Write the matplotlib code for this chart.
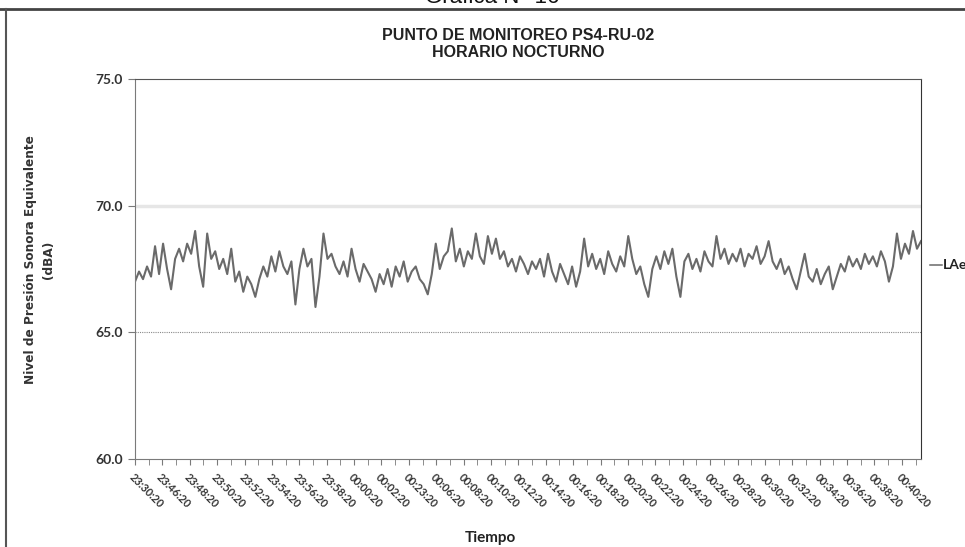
import numpy as np
import matplotlib
matplotlib.use("Agg")
import matplotlib.pyplot as plt
from matplotlib.lines import Line2D

# Etiquetas del eje de tiempo (tal como aparecen en la gráfica)
etiquetas = ["23:30:20", "23:46:20", "23:48:20", "23:50:20", "23:52:20", "23:54:20",
             "23:56:20", "23:58:20", "00:00:20", "00:02:20", "00:23:20", "00:06:20",
             "00:08:20", "00:10:20", "00:12:20", "00:14:20", "00:16:20", "00:18:20",
             "00:20:20", "00:22:20", "00:24:20", "00:26:20", "00:28:20", "00:30:20",
             "00:32:20", "00:34:20", "00:36:20", "00:38:20", "00:40:20"]

# Nivel LAeq (dBA)
laeq = [67.0, 67.4, 67.1, 67.6, 67.2, 68.4, 67.3, 68.5, 67.5, 66.7,
        67.9, 68.3, 67.8, 68.5, 68.1, 69.0, 67.6, 66.8, 68.9, 67.9,
        68.2, 67.5, 67.9, 67.3, 68.3, 67.0, 67.4, 66.6, 67.2, 66.9,
        66.4, 67.1, 67.6, 67.2, 68.0, 67.4, 68.2, 67.6, 67.3, 67.8,
        66.1, 67.5, 68.3, 67.6, 67.9, 66.0, 67.2, 68.9, 67.9, 68.1,
        67.6, 67.3, 67.8, 67.2, 68.3, 67.5, 67.0, 67.7, 67.4, 67.1,
        66.6, 67.3, 66.9, 67.5, 66.8, 67.6, 67.2, 67.8, 67.0, 67.4,
        67.6, 67.1, 66.9, 66.5, 67.3, 68.5, 67.5, 68.0, 68.2, 69.1,
        67.8, 68.3, 67.6, 68.2, 67.9, 68.9, 68.0, 67.7, 68.8, 68.1,
        68.7, 67.9, 68.2, 67.6, 67.9, 67.4, 68.0, 67.7, 67.3, 67.8,
        67.5, 67.9, 67.2, 68.1, 67.4, 67.0, 67.7, 67.3, 66.9, 67.6,
        66.8, 67.4, 68.7, 67.6, 68.1, 67.5, 67.9, 67.3, 68.2, 67.7,
        67.4, 68.0, 67.6, 68.8, 67.9, 67.3, 67.6, 66.9, 66.4, 67.5,
        68.0, 67.5, 68.2, 67.7, 68.3, 67.2, 66.4, 67.8, 68.1, 67.5,
        67.9, 67.4, 68.2, 67.8, 67.6, 68.8, 67.9, 68.3, 67.7, 68.1,
        67.8, 68.3, 67.6, 68.1, 67.9, 68.4, 67.7, 68.0, 68.6, 67.8,
        67.5, 67.9, 67.3, 67.6, 67.1, 66.7, 67.4, 68.1, 67.2, 67.0,
        67.5, 66.9, 67.3, 67.6, 66.7, 67.2, 67.7, 67.4, 68.0, 67.6,
        67.9, 67.5, 68.1, 67.7, 68.0, 67.6, 68.2, 67.8, 67.0, 67.6,
        68.9, 67.9, 68.5, 68.1, 69.0, 68.3, 68.6]

x = np.arange(len(laeq))

fig = plt.figure(figsize=(9.65, 5.47), dpi=100)
ax = fig.add_axes([135 / 965, 88 / 547, 786 / 965, 380 / 547])

ax.plot(x, laeq, color="#6a6a6a", linewidth=1.5)

ax.set_ylim(60, 75)
ax.set_xlim(0, len(laeq) - 1)

# Líneas guía
ax.axhline(65, color="#8a8a8a", linestyle=(0, (1, 1)), linewidth=0.8)
ax.axhline(70, color="#e6e6e6", linewidth=2.5)

ax.set_yticks([60, 65, 70, 75])
ax.set_yticklabels(["60.0", "65.0", "70.0", "75.0"], fontfamily="Lato",
                   fontweight="bold", fontsize=10, color="#333333")

paso = (len(laeq) - 1) / 28.7
pos = np.arange(len(etiquetas)) * paso
ax.set_xticks(pos)
ax.set_xticklabels(etiquetas, rotation=-45, ha="left", va="top",
                   rotation_mode="anchor", fontfamily="Lato", fontweight="bold",
                   fontsize=7.8, color="#333333")
ax.set_xticks(pos + paso / 2, minor=True)
ax.tick_params(axis="x", which="both", direction="out", length=4,
               color="#7a7a7a", pad=5)
ax.tick_params(axis="y", direction="out", length=5, color="#7a7a7a", pad=4)

for lado in ["left", "bottom"]:
    ax.spines[lado].set_color("#7a7a7a")
ax.spines["right"].set_color("#333333")
ax.spines["top"].set_color("#555555")
ax.spines["top"].set_linewidth(0.8)

# Títulos
fig.text(518 / 965, 1 - 44 / 547, "PUNTO DE MONITOREO PS4-RU-02\nHORARIO NOCTURNO",
         ha="center", va="center", fontfamily="Liberation Sans",
         fontweight="bold", fontsize=11.5, color="#222222", linespacing=1.1)
fig.text(492 / 965, 1 - 3 / 547, "Gráfica N° 16", ha="center", va="baseline",
         fontfamily="Liberation Sans", fontsize=16, color="#111111")
fig.text(490 / 965, 1 - 538 / 547, "Tiempo", ha="center", va="center",
         fontfamily="Lato", fontweight="bold", fontsize=11, color="#222222")
fig.text(40 / 965, 1 - 260 / 547, "Nivel de Presión Sonora Equivalente\n(dBA)",
         ha="center", va="center", rotation=90, fontfamily="DejaVu Sans",
         fontweight="bold", fontsize=8.7, color="#333333", linespacing=1.5)

# Leyenda a la derecha
fig.add_artist(Line2D([930 / 965, 942 / 965], [1 - 265 / 547, 1 - 265 / 547],
                      color="#6a6a6a", linewidth=1.1))
fig.text(943 / 965, 1 - 265 / 547, "LAeq", ha="left", va="center",
         fontfamily="Lato", fontweight="bold", fontsize=10, color="#222222")

# Marco exterior
fig.add_artist(Line2D([0, 1], [1 - 9 / 547, 1 - 9 / 547], color="#444444", linewidth=2))
fig.add_artist(Line2D([6 / 965, 6 / 965], [0, 1 - 9 / 547], color="#555555", linewidth=1.5))

fig.savefig("out.png", dpi=100)
